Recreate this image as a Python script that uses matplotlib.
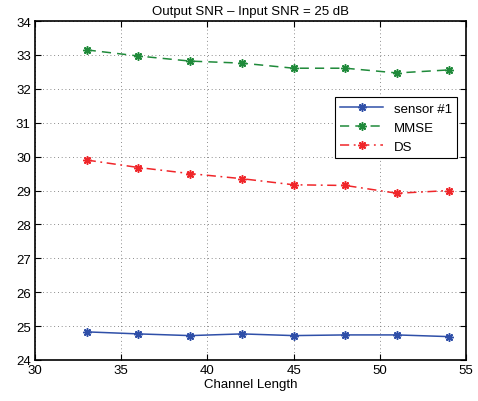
import numpy as np
import matplotlib
matplotlib.use('Agg')
import matplotlib.pyplot as plt

plt.rcParams['font.family'] = ['Liberation Sans', 'DejaVu Sans']

chan_len = [33, 36, 39, 42, 45, 48, 51, 54]
sensor1 = [24.83, 24.77, 24.72, 24.77, 24.72, 24.74, 24.74, 24.69]
mmse = [33.15, 32.97, 32.82, 32.76, 32.61, 32.61, 32.47, 32.56]
ds = [29.90, 29.68, 29.50, 29.35, 29.17, 29.15, 28.92, 29.00]

fig = plt.figure(figsize=(4.78, 4.02), dpi=100)
ax = fig.add_axes([0.0732, 0.102, 0.9018, 0.843])

mk = (8, 2, 0)
ax.plot(chan_len, sensor1, '-', color='#2f4fa8', marker=mk, ms=6, mew=1.1, lw=1.1, label='sensor #1')
ax.plot(chan_len, mmse, '--', color='#1f8a3a', marker=mk, ms=6, mew=1.1, lw=1.1, dashes=(6, 4), label='MMSE')
ax.plot(chan_len, ds, '-.', color='#f0262a', marker=mk, ms=6, mew=1.1, lw=1.1, dashes=(6, 3, 1.2, 3), label='DS')

ax.set_xlim(30, 55)
ax.set_ylim(24, 34)
ax.set_xticks(np.arange(30, 56, 5))
ax.set_yticks(np.arange(24, 35, 1))
ax.grid(True, linestyle=(0, (1, 3.5)), color='#666666', lw=0.6)
ax.tick_params(direction='in', top=True, right=True, labelsize=9.5, length=4, width=0.8, pad=3)
for s in ax.spines.values():
    s.set_linewidth(1.2)

ax.set_title('Output SNR \u2013 Input SNR = 25 dB', fontsize=9.5, pad=5)
ax.set_xlabel('Channel Length', fontsize=9.5, labelpad=1)

leg = ax.legend(loc='upper right', bbox_to_anchor=(0.98, 0.775), fontsize=9.5,
                fancybox=False, framealpha=1, edgecolor='black', borderpad=0.4,
                handlelength=3.3, labelspacing=0.5, borderaxespad=0)
leg.get_frame().set_linewidth(0.8)

fig.savefig('out.png', dpi=100)
